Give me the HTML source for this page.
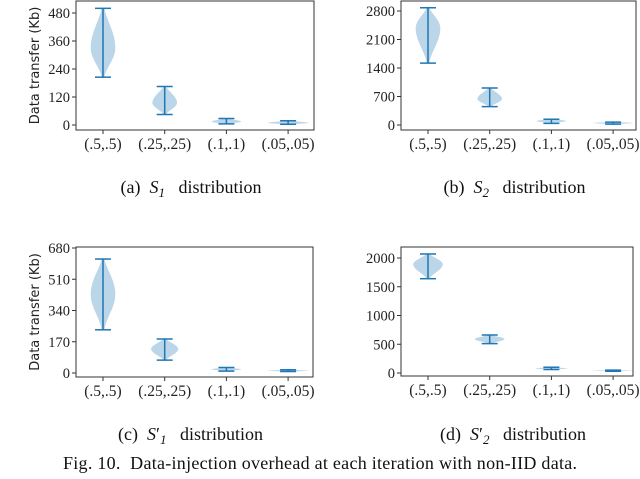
<!DOCTYPE html>
<html><head><meta charset="utf-8">
<style>
html,body{margin:0;padding:0;background:#fff;}
svg{display:block;}
text{white-space:pre;}
.tick{font-family:"Liberation Serif",serif;font-size:14.5px;fill:#222;}
.xtick{font-family:"Liberation Serif",serif;font-size:15.5px;fill:#222;}
.ylab{font-family:"DejaVu Sans","Liberation Sans",sans-serif;font-size:13px;fill:#222;}
.cap{font-family:"Liberation Serif",serif;font-size:18px;fill:#111;}
.fig{font-family:"Liberation Serif",serif;font-size:18px;fill:#111;}
</style></head>
<body>
<svg id="chart" width="640" height="479" viewBox="0 0 640 479" xmlns="http://www.w3.org/2000/svg">
<text class="fig" x="320" y="469" text-anchor="middle" textLength="514" lengthAdjust="spacing">Fig. 10.  Data-injection overhead at each iteration with non-IID data.</text>
</svg>
<script>
var categories = ["(.5,.5)", "(.25,.25)", "(.1,.1)", "(.05,.05)"];
// panel a: S1
var aMin = [205, 45, 5, 3];
var aMax = [500, 165, 28, 18];
var aMode = [330, 95, 14, 9];
var aWidth = [0.2, 0.2, 0.24, 0.33];
var aTicks = [0, 120, 240, 360, 480];
// panel b: S2
var bMin = [1520, 450, 40, 20];
var bMax = [2880, 910, 140, 70];
var bMode = [2380, 640, 100, 50];
var bWidth = [0.2, 0.2, 0.24, 0.33];
var bTicks = [0, 700, 1400, 2100, 2800];
// panel c: S1'
var cMin = [235, 70, 10, 8];
var cMax = [620, 185, 30, 18];
var cMode = [430, 130, 20, 12];
var cWidth = [0.2, 0.22, 0.24, 0.33];
var cTicks = [0, 170, 340, 510, 680];
// panel d: S2'
var dMin = [1640, 510, 60, 30];
var dMax = [2070, 660, 100, 50];
var dMode = [1890, 590, 80, 40];
var dWidth = [0.24, 0.24, 0.26, 0.33];
var dTicks = [0, 500, 1000, 1500, 2000];

var NS = "http://www.w3.org/2000/svg";
var svg = document.getElementById("chart");
function mk(tag, attrs, parent){
  var e = document.createElementNS(NS, tag);
  for (var k in attrs) e.setAttribute(k, attrs[k]);
  (parent||svg).appendChild(e);
  return e;
}
var panels = [
  {id:"a", L:76, R:314, T:1, B:130, y0:125, yTop:13, tmax:480, mins:aMin, maxs:aMax, modes:aMode, widths:aWidth, ticks:aTicks, ylab:true, cap:"(a)", sub:"1", prime:false, capY:193},
  {id:"b", L:401, R:636, T:1, B:130, y0:125, yTop:11, tmax:2800, mins:bMin, maxs:bMax, modes:bMode, widths:bWidth, ticks:bTicks, ylab:false, cap:"(b)", sub:"2", prime:false, capY:193},
  {id:"c", L:76, R:313, T:247, B:377, y0:373, yTop:248, tmax:680, mins:cMin, maxs:cMax, modes:cMode, widths:cWidth, ticks:cTicks, ylab:true, cap:"(c)", sub:"1", prime:true, capY:440},
  {id:"d", L:401, R:633, T:247, B:376, y0:373, yTop:258, tmax:2000, mins:dMin, maxs:dMax, modes:dMode, widths:dWidth, ticks:dTicks, ylab:false, cap:"(d)", sub:"2", prime:true, capY:440}
];
var step = 61.7;
panels.forEach(function(p){
  var g = mk("g", {});
  
  
  var ys = function(v){ return p.y0 - (v / p.tmax) * (p.y0 - p.yTop); };
  var xs = function(i){ return p.L + 27 + step * i; };
  for (var i = 0; i < categories.length; i++){
    var cx = xs(i), hw = p.widths[i] * step, mn = p.mins[i], mx = p.maxs[i], mo = p.modes[i];
    var n = 30, left = [], right = [];
    for (var k = 0; k <= n; k++){
      var v = mn + (mx - mn) * k / n, w;
      if (v <= mo) { var t = (v - mn) / Math.max(mo - mn, 1e-9); w = Math.pow(Math.sin(t * Math.PI / 2), 1.6); }
      else { var t2 = (v - mo) / Math.max(mx - mo, 1e-9); w = Math.pow(Math.cos(t2 * Math.PI / 2), 1.4); }
      w = 0.12 + 0.88 * w;
      right.push((cx + hw * w).toFixed(2) + "," + ys(v).toFixed(2));
      left.unshift((cx - hw * w).toFixed(2) + "," + ys(v).toFixed(2));
    }
    var body = mk("polygon", {points: right.concat(left).join(" "), fill:"#1f77b4", "fill-opacity":"0.3", stroke:"none"}, g);
    
    
    var stem = mk("line", {x1:cx, x2:cx, y1:ys(mn), y2:ys(mx), stroke:"#1f77b4", "stroke-width":1.5}, g);
    
    
    [mn, mx].forEach(function(v){
      var cap = mk("line", {x1:cx - 8, x2:cx + 8, y1:ys(v), y2:ys(v), stroke:"#1f77b4", "stroke-width":1.5}, g);
      
      
    });
  }
  var fr = mk("rect", {x:p.L, y:p.T, width:p.R - p.L, height:p.B - p.T, fill:"none", stroke:"#333", "stroke-width":1}, g);
  
  
  p.ticks.forEach(function(v){
    var y = ys(v);
    mk("line", {x1:p.L - 4, x2:p.L, y1:y, y2:y, stroke:"#333", "stroke-width":1}, g);
    var t = mk("text", {"class":"tick", x:p.L - 6, y:y + 5, "text-anchor":"end"}, g);
    t.textContent = v;
    
    
  });
  categories.forEach(function(c, i){
    var x = xs(i);
    mk("line", {x1:x, x2:x, y1:p.B, y2:p.B + 4, stroke:"#333", "stroke-width":1}, g);
    var t = mk("text", {"class":"xtick", x:x, y:p.B + 19, "text-anchor":"middle"}, g);
    t.textContent = c;
    
    
  });
  if (p.ylab){
    var cy = (p.T + p.B) / 2;
    var yl = mk("text", {"class":"ylab", x:0, y:0, "text-anchor":"middle", transform:"translate(39," + cy + ") rotate(-90)"}, g);
    yl.textContent = "Data transfer (Kb)";
    
    
  }
  var capx = (p.L + p.R) / 2 - 4;
  var ct = mk("text", {"class":"cap", x:capx, y:p.capY, "text-anchor":"middle"}, g);
  ct.innerHTML = p.cap + "  <tspan font-style='italic'>S</tspan>" + (p.prime ? "<tspan>′</tspan>" : "") +
    "<tspan font-style='italic' font-size='13' dy='4'>" + p.sub + "</tspan><tspan dy='-4'>   distribution</tspan>";
  
  
});
</script>
</body></html>
